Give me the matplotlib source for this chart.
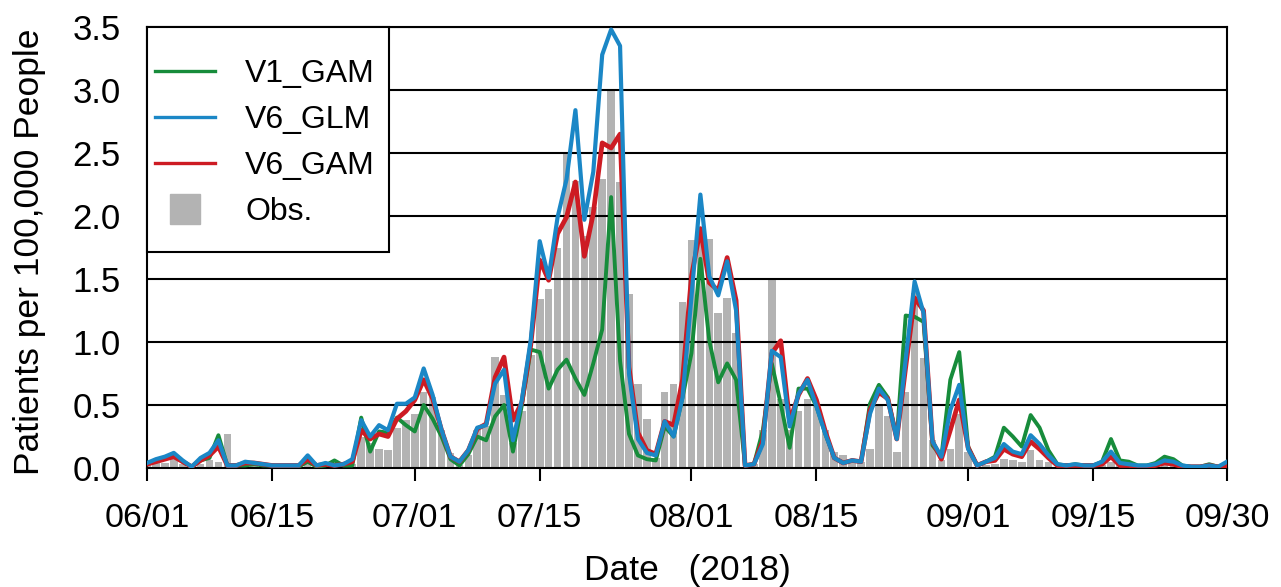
import matplotlib

matplotlib.use("Agg")
import matplotlib.pyplot as plt
from matplotlib.lines import Line2D
from matplotlib.patches import Rectangle
import pandas as pd

plt.rcParams["font.family"] = ["Liberation Sans", "DejaVu Sans"]

# daily values, 2018-06-01 .. 2018-09-30
dates = pd.date_range("2018-06-01", "2018-09-30", freq="D")

obs = [
    0.03, 0.05, 0.04, 0.08, 0.03, 0.00, 0.03, 0.06, 0.05, 0.27,
    0.00, 0.01, 0.03, 0.02, 0.01, 0.01, 0.00, 0.01, 0.03, 0.00,
    0.01, 0.00, 0.00, 0.03, 0.25, 0.20, 0.15, 0.14, 0.32, 0.38,
    0.43, 0.60, 0.56, 0.30, 0.12, 0.02, 0.10, 0.30, 0.33, 0.88,
    0.58, 0.20, 0.45, 0.90, 1.34, 1.42, 1.75, 2.50, 2.28, 1.84,
    2.07, 2.29, 3.00, 2.27, 1.38, 0.67, 0.39, 0.08, 0.60, 0.67,
    1.32, 1.81, 1.81, 1.82, 1.23, 1.35, 1.07, 0.00, 0.03, 0.30,
    1.50, 0.55, 0.30, 0.45, 0.55, 0.51, 0.30, 0.13, 0.10, 0.05,
    0.05, 0.15, 0.50, 0.41, 0.13, 0.60, 1.39, 0.87, 0.22, 0.06,
    0.15, 0.43, 0.13, 0.00, 0.02, 0.03, 0.07, 0.06, 0.05, 0.14,
    0.06, 0.05, 0.01, 0.01, 0.01, 0.01, 0.01, 0.02, 0.05, 0.02,
    0.01, 0.01, 0.01, 0.01, 0.03, 0.02, 0.01, 0.00, 0.01, 0.01,
    0.01, 0.02,
]

v1_gam = [
    0.04, 0.05, 0.08, 0.10, 0.05, 0.01, 0.06, 0.08, 0.26, 0.02,
    0.02, 0.02, 0.03, 0.02, 0.02, 0.01, 0.01, 0.01, 0.05, 0.01,
    0.02, 0.06, 0.02, 0.02, 0.40, 0.13, 0.29, 0.28, 0.40, 0.34,
    0.29, 0.50, 0.39, 0.25, 0.07, 0.02, 0.11, 0.25, 0.22, 0.41,
    0.50, 0.13, 0.50, 0.94, 0.92, 0.63, 0.78, 0.86, 0.71, 0.58,
    0.83, 1.10, 2.15, 0.85, 0.27, 0.10, 0.07, 0.06, 0.33, 0.25,
    0.56, 0.91, 1.66, 1.01, 0.68, 0.83, 0.70, 0.02, 0.03, 0.30,
    0.83, 0.51, 0.16, 0.63, 0.63, 0.49, 0.27, 0.08, 0.04, 0.06,
    0.05, 0.51, 0.66, 0.56, 0.24, 1.21, 1.20, 1.16, 0.18, 0.09,
    0.70, 0.92, 0.17, 0.02, 0.05, 0.09, 0.32, 0.25, 0.17, 0.42,
    0.32, 0.14, 0.03, 0.02, 0.03, 0.02, 0.02, 0.05, 0.23, 0.06,
    0.05, 0.02, 0.02, 0.04, 0.09, 0.07, 0.02, 0.01, 0.01, 0.03,
    0.01, 0.03,
]

v6_glm = [
    0.04, 0.07, 0.09, 0.12, 0.06, 0.01, 0.08, 0.12, 0.22, 0.02,
    0.02, 0.05, 0.04, 0.03, 0.02, 0.02, 0.02, 0.02, 0.10, 0.02,
    0.04, 0.02, 0.03, 0.07, 0.38, 0.25, 0.34, 0.30, 0.51, 0.51,
    0.56, 0.79, 0.58, 0.30, 0.09, 0.05, 0.14, 0.32, 0.34, 0.67,
    0.78, 0.22, 0.54, 1.02, 1.80, 1.51, 1.99, 2.29, 2.84, 1.97,
    2.35, 3.28, 3.48, 3.35, 0.75, 0.23, 0.12, 0.10, 0.37, 0.25,
    0.56, 1.36, 2.17, 1.52, 1.37, 1.64, 1.25, 0.02, 0.03, 0.19,
    0.93, 0.88, 0.33, 0.59, 0.70, 0.49, 0.27, 0.08, 0.04, 0.06,
    0.05, 0.43, 0.63, 0.54, 0.23, 0.86, 1.48, 1.23, 0.21, 0.09,
    0.46, 0.66, 0.15, 0.02, 0.05, 0.08, 0.19, 0.13, 0.11, 0.26,
    0.19, 0.10, 0.03, 0.02, 0.03, 0.02, 0.02, 0.05, 0.13, 0.04,
    0.03, 0.02, 0.02, 0.03, 0.06, 0.05, 0.02, 0.01, 0.01, 0.02,
    0.01, 0.05,
]

v6_gam = [
    0.03, 0.05, 0.07, 0.09, 0.05, 0.01, 0.06, 0.10, 0.17, 0.02,
    0.02, 0.04, 0.04, 0.03, 0.02, 0.02, 0.02, 0.02, 0.07, 0.02,
    0.03, 0.02, 0.03, 0.05, 0.30, 0.23, 0.27, 0.25, 0.39, 0.45,
    0.54, 0.70, 0.55, 0.30, 0.09, 0.05, 0.14, 0.31, 0.35, 0.72,
    0.88, 0.38, 0.52, 0.98, 1.65, 1.49, 1.86, 1.99, 2.27, 1.68,
    2.02, 2.58, 2.54, 2.65, 0.80, 0.28, 0.14, 0.11, 0.37, 0.34,
    0.70, 1.52, 1.90, 1.47, 1.41, 1.67, 1.33, 0.02, 0.03, 0.22,
    0.91, 1.01, 0.37, 0.58, 0.71, 0.54, 0.29, 0.08, 0.04, 0.06,
    0.05, 0.46, 0.60, 0.55, 0.23, 0.80, 1.35, 1.25, 0.21, 0.07,
    0.30, 0.54, 0.16, 0.02, 0.05, 0.06, 0.15, 0.11, 0.09, 0.21,
    0.15, 0.08, 0.02, 0.02, 0.02, 0.02, 0.02, 0.03, 0.09, 0.02,
    0.02, 0.01, 0.01, 0.02, 0.04, 0.03, 0.01, 0.01, 0.01, 0.02,
    0.01, 0.02,
]

tick_dates = ["2018-06-01", "2018-06-15", "2018-07-01", "2018-07-15", "2018-08-01",
              "2018-08-15", "2018-09-01", "2018-09-15", "2018-09-30"]
tick_labels = ["06/01", "06/15", "07/01", "07/15", "08/01", "08/15", "09/01", "09/15", "09/30"]

GREEN = "#178c3b"
BLUE = "#1b87c6"
RED = "#cd1b23"
GRAY = "#b3b3b3"

W, H = 1281, 587
fig = plt.figure(figsize=(W / 100, H / 100), dpi=100)
# plot box in pixels: x 147..1227, y 27..468
ax = fig.add_axes([147 / W, 1 - 468 / H, 1080 / W, 441 / H])

ax.bar(dates, obs, width=0.85, color=GRAY, zorder=1)
for yv in [0.5, 1.0, 1.5, 2.0, 2.5, 3.0, 3.5]:
    ax.axhline(yv, color="black", lw=1.5, zorder=2)
ax.plot(dates, v1_gam, color=GREEN, lw=2.8, zorder=3)
ax.plot(dates, v6_gam, color=RED, lw=3.4, zorder=4)
ax.plot(dates, v6_glm, color=BLUE, lw=3.0, zorder=5)

ax.set_xlim(dates[0], dates[-1])
ax.set_ylim(0, 3.5)
ax.set_xticks(pd.to_datetime(tick_dates), tick_labels)
ax.set_yticks([0, 0.5, 1.0, 1.5, 2.0, 2.5, 3.0, 3.5])
ax.yaxis.set_major_formatter(matplotlib.ticker.FormatStrFormatter("%.1f"))
ax.tick_params(axis="x", length=9, width=1.5, pad=16, labelsize=24.5)
ax.tick_params(axis="y", length=0, pad=19, labelsize=25)
for s in ax.spines.values():
    s.set_linewidth(1.5)

ax.set_xlabel("Date   (2018)", fontsize=25.5)
ax.xaxis.set_label_coords(0.5, (468 - 554) / 441)
ax.set_ylabel("Patients per 100,000 People", fontsize=25.5)
ax.yaxis.set_label_coords((46 - 147) / 1080, 0.49)

# legend box: x 147..389, y 27..252 (pixels)
box = Rectangle((0, (468 - 252) / 441), (389 - 147) / 1080, (252 - 27) / 441,
                transform=ax.transAxes, facecolor="white", edgecolor="black",
                lw=1.5, zorder=9, clip_on=False)
ax.add_patch(box)

handles = [
    Line2D([], [], color=GREEN, lw=2.4),
    Line2D([], [], color=BLUE, lw=2.4),
    Line2D([], [], color=RED, lw=2.4),
    Line2D([], [], color=GRAY, marker="s", markersize=21, linestyle="none"),
]
leg = ax.legend(handles, ["V1_GAM", "V6_GLM", "V6_GAM", "Obs."], loc="upper left",
                bbox_to_anchor=(155 / W, 1 - 59 / H), bbox_transform=fig.transFigure,
                borderaxespad=0, borderpad=0, fontsize=23, frameon=False,
                handlelength=1.88, handletextpad=0.94, labelspacing=0.5)
leg.set_zorder(10)

fig.savefig("out.png", dpi=100)
